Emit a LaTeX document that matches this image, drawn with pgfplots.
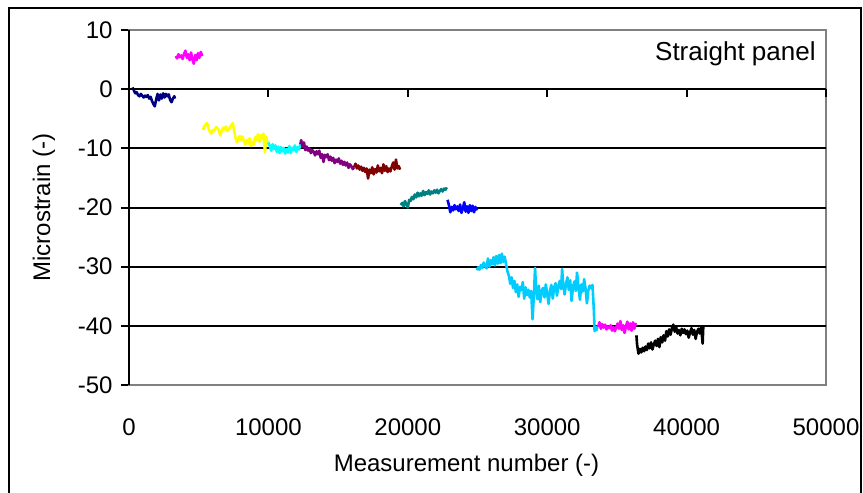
\documentclass[border=0pt]{standalone}
\usepackage{pgfplots}
\pgfplotsset{compat=1.18}
\usepackage{fontspec}
\setmainfont{Liberation Sans}
\definecolor{cNavy}{RGB}{0,0,128}
\definecolor{cMag}{RGB}{255,0,255}
\definecolor{cYel}{RGB}{255,255,0}
\definecolor{cCyan}{RGB}{0,255,255}
\definecolor{cPurp}{RGB}{128,0,128}
\definecolor{cMaroon}{RGB}{128,0,0}
\definecolor{cTeal}{RGB}{0,128,128}
\definecolor{cBlue}{RGB}{0,0,255}
\definecolor{cSky}{RGB}{0,204,255}
\definecolor{cFrame}{RGB}{128,128,128}
\begin{document}
\fontsize{12}{14}\selectfont
\begin{tikzpicture}
\useasboundingbox (0,0) rectangle (431.5pt,246.5pt);
\draw[black, line width=1pt] (4.5pt,-2pt) -- (4.5pt,242.5pt) -- (430.5pt,242.5pt) -- (430.5pt,-2pt);
\begin{axis}[
  at={(64.5pt,54pt)}, anchor=south west,
  scale only axis, width=348.5pt, height=177.5pt,
  xmin=0, xmax=50000, ymin=-50, ymax=10,
  scaled x ticks=false, scaled y ticks=false,
  axis line style={cFrame, line width=1pt},
  xtick={0,10000,20000,30000,40000,50000},
  xticklabels={0,10000,20000,30000,40000,50000},
  ytick={-50,-40,-30,-20,-10,0,10},
  yticklabels={-50,-40,-30,-20,-10,0,10},
  x tick style={draw=none},
  y tick style={black, line width=1pt},
  tick align=outside, major tick length=4pt,
  xtick pos=bottom, ytick pos=left,
  xticklabel style={yshift=-8.5pt, font=\fontsize{12}{14}\selectfont},
  yticklabel style={font=\fontsize{12}{14}\selectfont},
  extra y ticks={-40,-30,-20,-10},
  extra y tick labels={},
  extra y tick style={grid=major, major grid style={black, line width=1pt}, major tick length=0pt},
  xlabel={Measurement number (-)},
  ylabel={Microstrain (-)},
  xlabel style={at={(axis description cs:0.5,0)}, anchor=center, yshift=-40pt, xshift=-5.5pt, font=\fontsize{12}{14}\selectfont},
  ylabel style={at={(axis description cs:0,0.5)}, anchor=center, rotate=0, yshift=42.5pt, font=\fontsize{12}{14}\selectfont},
  every axis plot/.append style={line width=1.3pt, mark=none, line join=round},
  clip=false,
]
% navy
\addplot[cNavy] coordinates {(250,0.3)(350,-0.2)(450,-0.7)(550,-0.5)(650,-1.0)(750,-1.2)(850,-0.8)(950,-1.1)(1050,-1.4)(1150,-1.1)(1250,-1.3)(1350,-1.0)(1450,-1.6)(1550,-1.3)(1650,-2.0)(1750,-2.5)(1850,-2.9)(1950,-1.7)(2050,-0.8)(2150,-1.9)(2250,-0.9)(2350,-1.6)(2450,-0.7)(2550,-1.4)(2650,-0.8)(2750,-1.2)(2850,-0.9)(2950,-1.8)(3050,-2.2)(3150,-1.6)(3250,-1.2)(3300,-1.6)};
% magenta 1
\addplot[cMag] coordinates {(3350,5.6)(3450,5.2)(3550,5.9)(3650,5.4)(3750,5.7)(3850,5.1)(3950,6.0)(4050,6.5)(4150,5.3)(4250,5.9)(4350,4.9)(4450,6.2)(4550,5.0)(4650,4.3)(4750,5.8)(4850,4.9)(4950,6.1)(5050,5.3)(5150,6.3)(5250,5.6)};
% yellow
\addplot[cYel] coordinates {(5300,-6.9)(5400,-6.3)(5500,-6.0)(5600,-5.7)(5700,-6.6)(5800,-7.2)(5900,-7.5)(6000,-6.9)(6100,-7.1)(6250,-6.4)(6400,-6.7)(6550,-7.8)(6650,-7.0)(6750,-6.5)(6850,-6.8)(6950,-6.3)(7050,-7.1)(7200,-6.6)(7350,-6.1)(7450,-5.7)(7550,-7.2)(7650,-8.3)(7750,-9.0)(7850,-8.4)(7950,-7.9)(8050,-8.6)(8150,-8.0)(8250,-8.8)(8350,-9.3)(8450,-8.6)(8550,-9.2)(8650,-8.3)(8750,-9.6)(8850,-8.9)(8950,-9.4)(9050,-8.1)(9150,-8.6)(9250,-7.6)(9350,-8.9)(9450,-7.8)(9550,-8.3)(9650,-7.5)(9750,-10.7)(9850,-8.1)(9950,-9.3)(10000,-9.0)};
% cyan
\addplot[cCyan] coordinates {(10000,-9.0)(10100,-9.6)(10200,-10.4)(10300,-9.3)(10400,-10.1)(10500,-9.5)(10600,-10.6)(10700,-9.7)(10800,-10.8)(10900,-9.8)(11000,-10.5)(11100,-9.9)(11200,-10.9)(11300,-10.1)(11400,-10.7)(11500,-9.6)(11600,-10.8)(11700,-9.9)(11800,-10.3)(11900,-9.5)(12000,-10.6)(12100,-9.8)(12200,-10.2)(12300,-9.1)};
% purple
\addplot[cPurp] coordinates {(12300,-9.3)(12350,-8.6)(12450,-9.8)(12550,-9.0)(12650,-10.3)(12750,-9.7)(12850,-10.4)(12950,-10.0)(13050,-10.8)(13150,-10.3)(13250,-10.6)(13350,-11.2)(13450,-10.5)(13550,-11.0)(13650,-10.4)(13750,-11.6)(13850,-11.0)(13950,-12.3)(14050,-11.1)(14150,-11.5)(14250,-11.0)(14350,-12.0)(14450,-11.4)(14550,-12.1)(14650,-11.6)(14750,-12.5)(14850,-11.9)(14950,-12.3)(15050,-11.7)(15150,-12.6)(15250,-12.1)(15350,-12.8)(15450,-12.3)(15550,-12.9)(15650,-12.4)(15750,-13.3)(15850,-12.7)(15950,-13.0)(16050,-13.5)(16150,-13.2)};
% maroon
\addplot[cMaroon] coordinates {(16150,-13.2)(16250,-12.6)(16350,-13.4)(16450,-12.9)(16550,-13.6)(16650,-13.1)(16750,-13.8)(16850,-13.3)(16950,-14.0)(17050,-13.4)(17150,-15.1)(17250,-13.6)(17350,-14.2)(17450,-13.2)(17550,-14.4)(17650,-13.5)(17750,-14.1)(17850,-12.9)(17950,-13.9)(18050,-13.3)(18150,-14.2)(18250,-12.7)(18350,-13.8)(18450,-13.0)(18550,-14.0)(18650,-13.4)(18750,-13.9)(18850,-13.1)(18950,-12.4)(19050,-13.6)(19150,-11.9)(19250,-13.4)(19350,-13.0)(19450,-13.6)};
% teal
\addplot[cTeal] coordinates {(19500,-19.6)(19600,-19.2)(19700,-19.8)(19800,-18.9)(19900,-19.5)(20000,-20.0)(20100,-18.7)(20200,-18.9)(20300,-18.2)(20400,-18.6)(20500,-17.8)(20600,-18.3)(20700,-17.5)(20800,-18.1)(20900,-17.6)(21000,-18.0)(21100,-17.2)(21200,-17.9)(21300,-17.4)(21400,-17.7)(21500,-17.1)(21600,-17.8)(21700,-17.3)(21800,-17.6)(21900,-17.1)(22000,-17.5)(22100,-17.0)(22200,-17.6)(22300,-17.2)(22400,-16.9)(22500,-17.3)(22600,-16.8)(22700,-17.0)(22800,-16.6)};
% blue
\addplot[cBlue] coordinates {(22850,-18.7)(22950,-19.6)(23050,-20.8)(23150,-19.9)(23250,-20.5)(23350,-19.6)(23450,-20.3)(23550,-19.8)(23650,-20.6)(23750,-19.5)(23850,-20.9)(23950,-20.2)(24050,-19.1)(24150,-20.7)(24250,-19.8)(24350,-20.9)(24450,-19.6)(24550,-20.6)(24650,-19.7)(24750,-20.8)(24850,-19.9)(24950,-20.5)};
% sky blue
\addplot[cSky] coordinates {(24950,-30.6)(25050,-30.1)(25150,-30.5)(25250,-29.7)(25350,-30.2)(25450,-29.3)(25550,-29.9)(25650,-30.3)(25750,-28.6)(25850,-30.0)(25950,-28.9)(26050,-29.6)(26150,-28.4)(26250,-29.8)(26350,-28.2)(26450,-29.5)(26550,-28.0)(26650,-29.4)(26750,-27.8)(26850,-29.2)(26950,-28.3)(27050,-29.6)(27150,-30.8)(27250,-31.5)(27350,-32.9)(27450,-31.8)(27550,-33.6)(27650,-32.4)(27750,-34.3)(27850,-33.0)(27950,-35.1)(28050,-33.4)(28150,-34.0)(28250,-32.6)(28350,-35.4)(28450,-33.5)(28550,-34.8)(28650,-33.9)(28750,-35.2)(28850,-34.1)(28950,-38.9)(29050,-34.5)(29130,-30.2)(29200,-33.7)(29300,-35.5)(29400,-33.2)(29500,-36.0)(29600,-34.1)(29700,-33.6)(29800,-35.2)(29900,-33.0)(30000,-34.6)(30100,-36.3)(30200,-34.0)(30300,-33.1)(30400,-35.4)(30500,-33.5)(30600,-32.8)(30700,-34.9)(30800,-33.3)(30900,-32.4)(31000,-33.8)(31070,-30.4)(31150,-33.0)(31250,-34.7)(31350,-32.9)(31450,-31.8)(31550,-33.9)(31650,-32.3)(31750,-35.8)(31850,-33.4)(31950,-32.5)(32050,-34.1)(32140,-31.0)(32250,-33.6)(32350,-35.6)(32450,-33.0)(32550,-34.2)(32650,-32.1)(32750,-33.7)(32850,-36.2)(32950,-34.0)(33050,-33.2)(33150,-33.6)(33250,-33.1)(33350,-37.5)(33400,-40.9)(33450,-40.3)(33550,-40.7)(33600,-40.0)};
% magenta 2
\addplot[cMag] coordinates {(33650,-40.2)(33750,-39.4)(33850,-40.5)(33950,-39.7)(34050,-40.3)(34150,-39.8)(34250,-40.6)(34350,-40.1)(34450,-40.4)(34550,-39.9)(34650,-40.8)(34750,-40.2)(34850,-40.9)(34950,-40.3)(35050,-39.6)(35150,-40.5)(35250,-39.2)(35350,-40.7)(35450,-39.9)(35550,-41.2)(35650,-40.1)(35750,-39.3)(35850,-40.6)(35950,-39.6)(36050,-40.8)(36150,-39.4)(36250,-40.5)(36350,-39.5)};
% black
\addplot[black] coordinates {(36400,-41.6)(36450,-43.2)(36550,-44.7)(36650,-43.9)(36750,-44.5)(36850,-43.7)(36950,-44.3)(37050,-43.5)(37150,-44.1)(37250,-43.0)(37350,-43.8)(37450,-42.8)(37550,-44.0)(37650,-43.1)(37750,-42.5)(37850,-43.4)(37950,-42.2)(38050,-43.6)(38150,-41.9)(38250,-42.8)(38350,-41.6)(38450,-42.5)(38550,-40.9)(38650,-41.8)(38750,-40.6)(38850,-41.5)(38950,-40.4)(39050,-39.8)(39150,-41.0)(39250,-40.2)(39350,-41.3)(39450,-40.7)(39550,-41.6)(39650,-40.5)(39750,-41.2)(39850,-40.6)(39950,-41.4)(40050,-40.8)(40150,-42.0)(40250,-41.1)(40350,-40.4)(40450,-41.5)(40550,-40.7)(40650,-42.2)(40750,-41.0)(40850,-40.5)(40950,-41.3)(41050,-40.2)(41150,-43.0)(41200,-40.0)};
% black axis lines
\draw[black, line width=1pt] (axis cs:0,-50) -- (axis cs:0,10);
\draw[black, line width=1pt] (axis cs:0,0) -- (axis cs:50000,0);
\draw[black, line width=1pt] (axis cs:10000,0) -- ([yshift=-4pt]axis cs:10000,0);
\draw[black, line width=1pt] (axis cs:20000,0) -- ([yshift=-4pt]axis cs:20000,0);
\draw[black, line width=1pt] (axis cs:30000,0) -- ([yshift=-4pt]axis cs:30000,0);
\draw[black, line width=1pt] (axis cs:40000,0) -- ([yshift=-4pt]axis cs:40000,0);
\draw[black, line width=1pt] (axis cs:50000,0) -- ([yshift=-4pt]axis cs:50000,0);
\node[anchor=center, font=\fontsize{13}{15}\selectfont] at (axis cs:43500,6) {Straight panel};
\end{axis}
\end{tikzpicture}
\end{document}
